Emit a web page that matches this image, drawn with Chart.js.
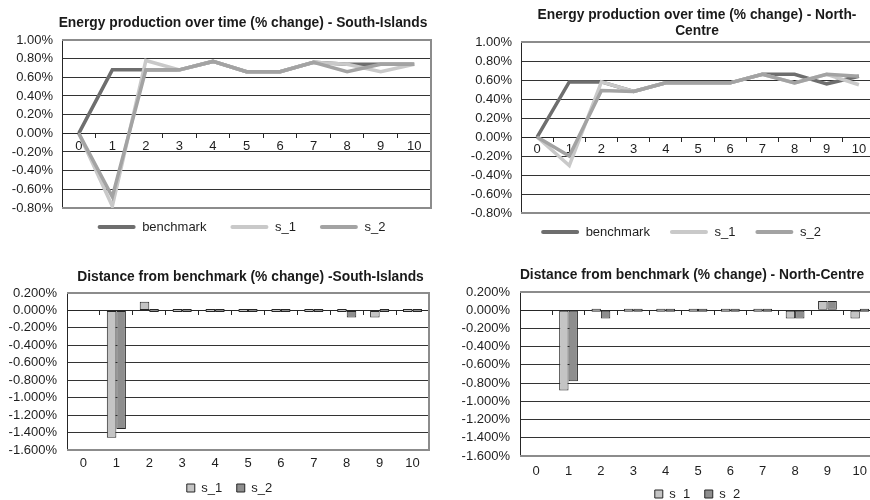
<!DOCTYPE html>
<html>
<head>
<meta charset="utf-8">
<script src="https://cdn.jsdelivr.net/npm/chart.js@4.4.1/dist/chart.umd.min.js"></script>
<style>
  html, body { margin:0; padding:0; background:#fff; width:870px; height:500px; overflow:hidden; position:relative; }
  canvas { position:absolute; }
</style>
</head>
<body>
<canvas id="southLine" width="445" height="255" style="left:0;top:0"></canvas>
<canvas id="northLine" width="450" height="256" style="left:430px;top:0"></canvas>
<canvas id="southGap" width="445" height="260" style="left:0;top:250px"></canvas>
<canvas id="northGap" width="450" height="266" style="left:430px;top:250px"></canvas>
<script>
let steps=["0","1","2","3","4","5","6","7","8","9","10"];

// % change per step, South-Islands
let southBenchmark=[0,0.68,0.68,0.68,0.77,0.66,0.66,0.76,0.74,0.74,0.74];
let southS1=[0,-0.78,0.78,0.68,0.77,0.66,0.66,0.76,0.74,0.66,0.74];
let southS2=[0,-0.68,0.68,0.68,0.77,0.66,0.66,0.76,0.66,0.74,0.74];

// % change per step, North-Centre
let northBenchmark=[0,0.58,0.58,0.48,0.57,0.57,0.57,0.66,0.66,0.56,0.64];
let northS1=[0,-0.30,0.58,0.48,0.57,0.57,0.57,0.66,0.57,0.66,0.55];
let northS2=[0,-0.20,0.49,0.48,0.57,0.57,0.57,0.66,0.57,0.66,0.64];

// distance from benchmark
let southGapS1=[null,-1.46,0.10,0,0,0,0,0,0,-0.08,0];
let southGapS2=[null,-1.36,0,0,0,0,0,0,-0.08,0,0];
let northGapS1=[null,-0.88,0,0,0,0,0,0,-0.09,0.10,-0.09];
let northGapS2=[null,-0.78,-0.09,0,0,0,0,0,-0.09,0.10,0];

Chart.defaults.font.family="'Liberation Sans', Arial, sans-serif";
Chart.defaults.font.size=13;
Chart.defaults.color="#1e1e1e";
Chart.defaults.animation=false;

let dark="#262626";
let pct=(v,d)=>(Math.abs(v)<1e-9?0:v).toFixed(d)+"%";

// grey plot-area border on top, right and bottom
let frame={
    id:"frame",
    beforeDatasetsDraw(chart){
        let a=chart.chartArea;
        let ctx=chart.ctx;
        ctx.save();
        ctx.strokeStyle="#8c8c8c";
        ctx.lineWidth=2;
        ctx.beginPath();
        ctx.moveTo(a.left,a.top);
        ctx.lineTo(a.right,a.top);
        ctx.lineTo(a.right,a.bottom);
        ctx.lineTo(a.left,a.bottom);
        ctx.stroke();
        ctx.restore();
    }
};

// shift title / legend sideways after layout
let nudge={
    id:"nudge",
    afterLayout(chart,args,opts){
        let move=(box,d)=>{
            if(!box||!d) return;
            box.left+=d[0]; box.right+=d[0];
            box.top+=d[1]; box.bottom+=d[1];
        };
        move(chart.titleBlock,opts.title);
        move(chart.legend,opts.legend);
    }
};

function lineChart(id,title,bench,s1,s2,box){
    new Chart(document.getElementById(id),{
        type:"line",
        data:{
            labels:steps,
            datasets:[
                {label:"benchmark",data:bench,borderColor:"#6e6e6e",backgroundColor:"#6e6e6e",borderWidth:3.5,pointRadius:0,tension:0,order:2},
                {label:"s_1",data:s1,borderColor:"#c9c9c9",backgroundColor:"#c9c9c9",borderWidth:3.5,pointRadius:0,tension:0,order:1},
                {label:"s_2",data:s2,borderColor:"#a3a3a3",backgroundColor:"#a3a3a3",borderWidth:3.5,pointRadius:0,tension:0,order:0}
            ]
        },
        options:{
            responsive:false,
            layout:{padding:{left:0,right:box.padRight,top:0,bottom:box.padBottom}},
            scales:{
                x:{
                    position:{y:0},
                    offset:true,
                    grid:{drawOnChartArea:false,offset:true,tickLength:4,color:dark},
                    border:{color:dark},
                    ticks:{padding:1,autoSkip:false,maxRotation:0}
                },
                y:{
                    min:-0.8,max:1.0,
                    ticks:{stepSize:0.2,padding:9,autoSkip:false,callback:v=>pct(v,2)},
                    grid:{color:"#333",drawTicks:false},
                    border:{color:dark},
                    afterFit:s=>{s.width=box.yWidth}
                }
            },
            plugins:{
                title:{display:true,text:title,font:{size:13.8,weight:"bold"},color:"#1a1a1a",padding:box.titlePad},
                legend:{
                    position:"bottom",
                    labels:{
                        boxWidth:38,boxHeight:4,padding:box.legendPad,
                        sort:(a,b)=>a.datasetIndex-b.datasetIndex,
                        generateLabels:chart=>Chart.defaults.plugins.legend.labels.generateLabels(chart)
                            .map(l=>({...l,fillStyle:l.strokeStyle,lineWidth:0,borderRadius:2}))
                    }
                },
                tooltip:{enabled:false},
                nudge:{title:box.titleShift,legend:box.legendShift}
            }
        },
        plugins:[frame,nudge]
    });
}

function gapChart(id,title,g1,g2,box){
    new Chart(document.getElementById(id),{
        type:"bar",
        data:{
            labels:steps,
            datasets:[
                {label:"s_1",data:g1,backgroundColor:"#c4c4c4",borderColor:dark,borderWidth:1,borderSkipped:false,minBarLength:3,categoryPercentage:0.58,barPercentage:1,xAxisID:"x",yAxisID:"y"},
                {label:"s_2",data:g2,backgroundColor:"#8e8e8e",borderColor:dark,borderWidth:1,borderSkipped:false,minBarLength:3,categoryPercentage:0.58,barPercentage:1,xAxisID:"x",yAxisID:"y"}
            ]
        },
        options:{
            responsive:false,
            layout:{padding:{left:0,right:box.padRight,top:0,bottom:box.padBottom}},
            scales:{
                x:{
                    offset:true,
                    grid:{display:false,drawTicks:false},
                    border:{display:false},
                    ticks:{padding:box.labelPad,autoSkip:false,maxRotation:0},
                    afterFit:s=>{s.height=22}
                },
                x2:{
                    type:"category",
                    position:{y:0},
                    offset:true,
                    grid:{drawOnChartArea:false,offset:true,tickLength:4,color:dark},
                    border:{color:dark},
                    ticks:{display:false}
                },
                y:{
                    min:-1.6,max:0.2,
                    ticks:{stepSize:0.2,padding:10,autoSkip:false,callback:v=>pct(v,3)},
                    grid:{color:"#333",drawTicks:false},
                    border:{color:dark},
                    afterFit:s=>{s.width=box.yWidth}
                }
            },
            plugins:{
                title:{display:true,text:title,font:{size:13.8,weight:"bold"},color:"#1a1a1a",padding:box.titlePad},
                legend:{position:"bottom",labels:{boxWidth:8,boxHeight:8,padding:14.5}},
                tooltip:{enabled:false},
                nudge:{title:box.titleShift,legend:box.legendShift}
            }
        },
        plugins:[frame,nudge]
    });
}

lineChart("southLine","Energy production over time (% change) - South-Islands",southBenchmark,southS1,southS2,{
    yWidth:62,padRight:14,padBottom:0,titlePad:{top:14.7,bottom:8.7},legendPad:24,
    titleShift:[27.5,0],legendShift:[26,-11.5]
});
lineChart("northLine",["Energy production over time (% change) - North-","Centre"],northBenchmark,northS1,northS2,{
    yWidth:91,padRight:5,padBottom:0,titlePad:{top:6.5,bottom:2.4},legendPad:20,
    titleShift:[44.5,0],legendShift:[28.5,-7.5]
});
gapChart("southGap","Distance from benchmark (% change) -South-Islands",southGapS1,southGapS2,{
    yWidth:67,padRight:16,padBottom:0.5,titlePad:{top:18.7,bottom:7.7},labelPad:6,
    titleShift:[36,0],legendShift:[15,-5]
});
gapChart("northGap","Distance from benchmark (% change) - North-Centre",northGapS1,northGapS2,{
    yWidth:90,padRight:4,padBottom:0.5,titlePad:{top:16.7,bottom:8.7},labelPad:8,
    titleShift:[39,0],legendShift:[44.5,-5]
});
</script>
</body>
</html>
